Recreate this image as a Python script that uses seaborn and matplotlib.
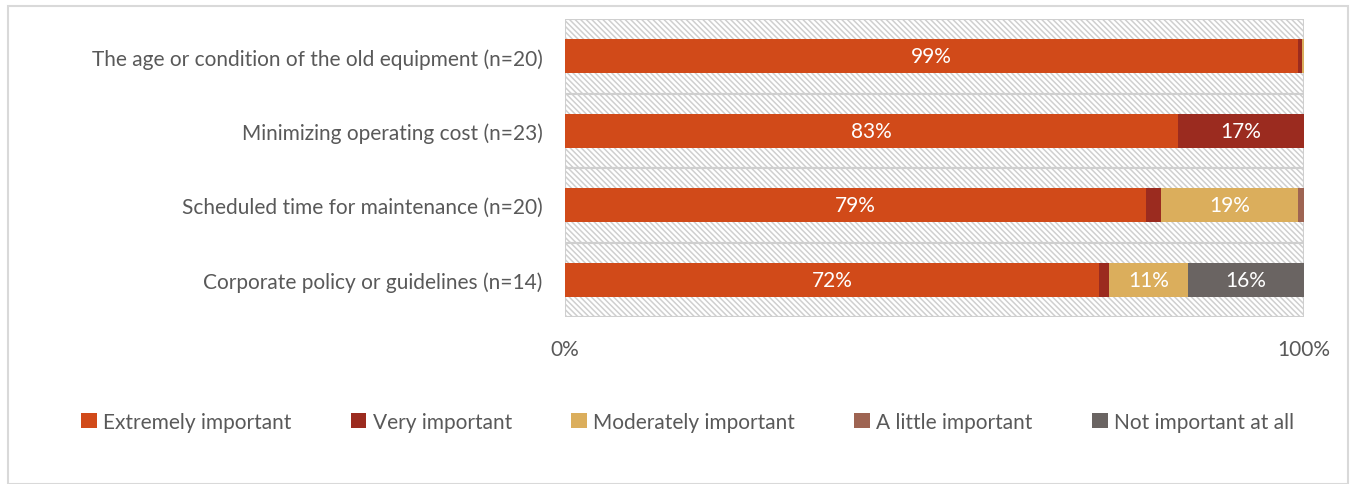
import numpy as np
import pandas as pd
import matplotlib
matplotlib.use("Agg")
import matplotlib.pyplot as plt
import seaborn as sns
from matplotlib.patches import Patch, Rectangle

categories = [
    "The age or condition of the old equipment (n=20)",
    "Minimizing operating cost (n=23)",
    "Scheduled time for maintenance (n=20)",
    "Corporate policy or guidelines (n=14)",
]
series_names = ["Extremely important", "Very important", "Moderately important",
                "A little important", "Not important at all"]
extremely = [99.2, 83.0, 78.6, 72.3]
very = [0.5, 17.0, 2.0, 1.3]
moderately = [0.3, 0.0, 18.6, 10.7]
a_little = [0.0, 0.0, 0.8, 0.0]
not_at_all = [0.0, 0.0, 0.0, 15.7]
colors = ["#D14A19", "#9B2B1F", "#DBAE5C", "#9E6452", "#6A6462"]

series = [extremely, very, moderately, a_little, not_at_all]

sns.set_theme(style="white")
plt.rcParams["font.family"] = ["Lato", "DejaVu Sans"]
plt.rcParams["hatch.linewidth"] = 1.1

FS = 15

fig = plt.figure(figsize=(13.53, 4.85), dpi=100)
W, H = 1353, 485
ax = fig.add_axes([565 / W, 1 - 318 / H, (1304 - 565) / W, (318 - 20) / H])

# hatched background bands
bg = pd.DataFrame({"cat": categories, "val": [100] * len(categories)})
sns.barplot(data=bg, y="cat", x="val", orient="h", width=1.0, ax=ax,
            color="white", edgecolor="#cfcfcf", linewidth=1.5, hatch="\\\\\\\\\\\\")
for p in ax.patches:
    p.set_facecolor("white")

cum = np.cumsum(np.array(series), axis=0)
for i in range(len(series) - 1, -1, -1):
    df = pd.DataFrame({"cat": categories, "val": cum[i]})
    sns.barplot(data=df, y="cat", x="val", orient="h", width=0.45, ax=ax,
                color=colors[i], saturation=1, linewidth=0)

# data labels
starts = np.vstack([np.zeros(len(categories)), cum[:-1]])
for i, s in enumerate(series):
    for j, v in enumerate(s):
        if v >= 10:
            ax.text(starts[i][j] + v / 2, j, f"{round(v)}%", ha="center", va="center",
                    color="white", fontsize=FS)

ax.set_xlim(0, 100)
ax.set_ylim(len(categories) - 0.5, -0.5)
ax.set_xlabel("")
ax.set_ylabel("")
ax.set_xticks([0, 100])
ax.set_xticklabels(["0%", "100%"])
ax.tick_params(axis="x", length=0, pad=16, labelsize=FS, labelcolor="#595959")
ax.tick_params(axis="y", length=0, pad=16, labelsize=FS, labelcolor="#595959")
for sp in ax.spines.values():
    sp.set_visible(False)

handles = [Patch(facecolor=c, edgecolor="none") for c in colors]
fig.legend(handles, series_names, loc="center", bbox_to_anchor=(0.5 + 11 / W, 1 - 423 / H),
           ncol=5, frameon=False, fontsize=FS, labelcolor="#595959",
           handlelength=0.75, handleheight=0.75, handletextpad=0.3, columnspacing=2.85)

# figure border
fig.patches.append(Rectangle((8 / W, 0), (1348 - 8) / W, 1 - 7 / H, transform=fig.transFigure,
                             fill=False, edgecolor="#d9d9d9", linewidth=1.5))

fig.savefig("out.png", dpi=100)
